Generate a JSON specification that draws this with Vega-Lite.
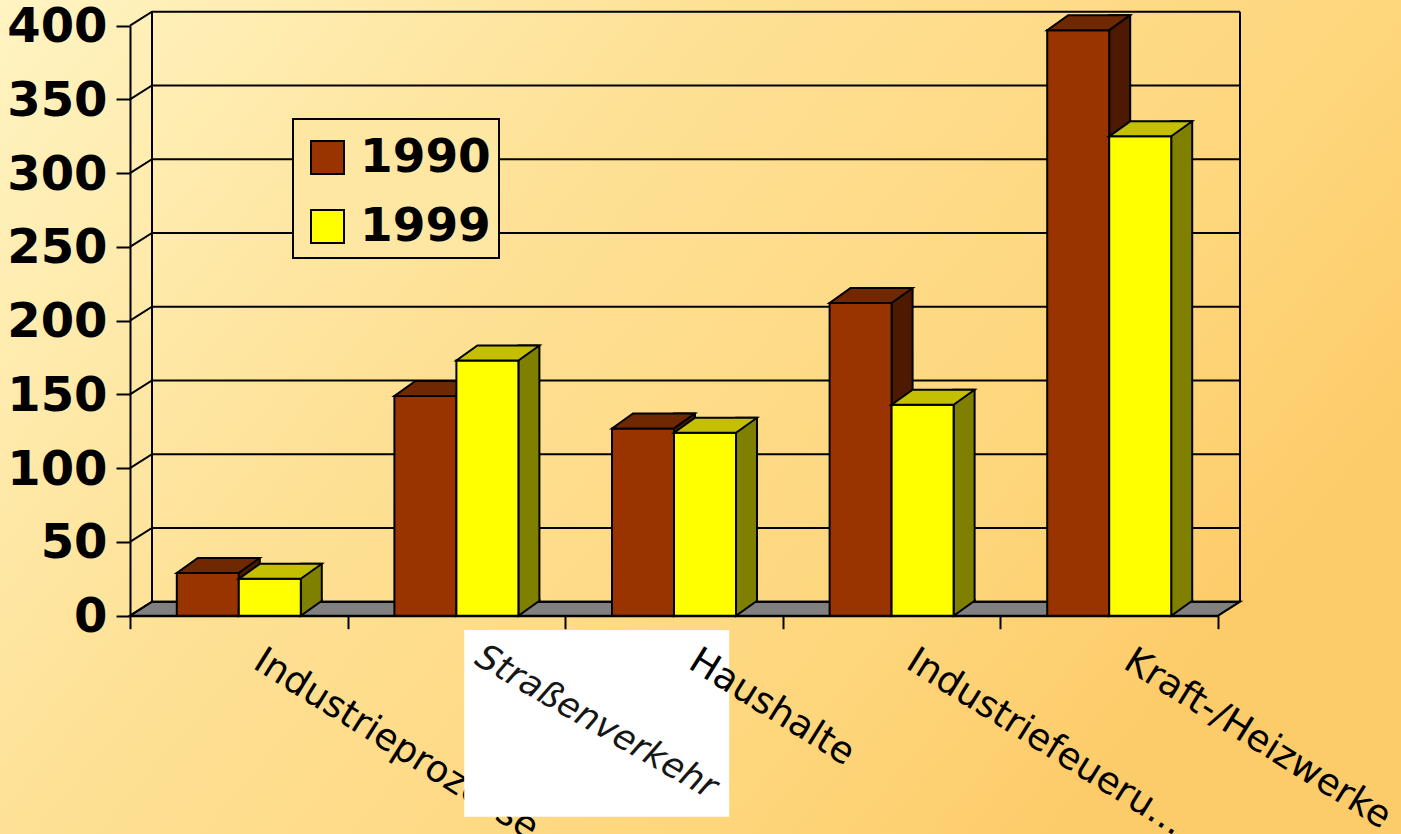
{
  "$schema": "https://vega.github.io/schema/vega-lite/v6.json",
  "width": 1401,
  "height": 834,
  "padding": 0,
  "autosize": {"type": "none"},
  "background": "#fedf95",
  "config": {
    "view": {
      "stroke": null,
      "fill": {
        "gradient": "linear",
        "x1": 0, "y1": 0, "x2": 1, "y2": 0.5,
        "stops": [
          {"offset": 0, "color": "#fff4c2"},
          {"offset": 0.4, "color": "#fee196"},
          {"offset": 0.8, "color": "#fed67c"},
          {"offset": 1, "color": "#fdcc6a"}
        ]
      }
    },
    "legend": {"strokeWidth": 2}
  },
  "datasets": {
    "emissions": [
      {"category": "Industrieprozesse", "year": "1990", "value": 29},
      {"category": "Industrieprozesse", "year": "1999", "value": 25},
      {"category": "Straßenverkehr", "year": "1990", "value": 149},
      {"category": "Straßenverkehr", "year": "1999", "value": 173},
      {"category": "Haushalte", "year": "1990", "value": 127},
      {"category": "Haushalte", "year": "1999", "value": 124},
      {"category": "Industriefeuerungen", "year": "1990", "value": 212},
      {"category": "Industriefeuerungen", "year": "1999", "value": 143},
      {"category": "Kraft-/Heizwerke", "year": "1990", "value": 397},
      {"category": "Kraft-/Heizwerke", "year": "1999", "value": 325}
    ],
    "gridlines": [
      {"v": 0}, {"v": 50}, {"v": 100}, {"v": 150}, {"v": 200},
      {"v": 250}, {"v": 300}, {"v": 350}, {"v": 400}
    ]
  },
  "layer": [
    {
      "description": "grey floor of the 3D box",
      "data": {"values": [{}]},
      "mark": {"type": "point", "shape": "M0,0 L1088,0 L1110,-14 L22,-14 Z", "size": 4, "filled": true, "fill": "#808080", "stroke": "black", "strokeWidth": 2, "opacity": 1},
      "encoding": {
        "x": {"datum": "Industrieprozesse", "type": "nominal", "bandPosition": 0, "title": null,
              "scale": {"type": "band", "domain": ["Industrieprozesse", "Straßenverkehr", "Haushalte", "Industriefeuerungen", "Kraft-/Heizwerke"], "range": [130, 1218], "paddingInner": 0, "paddingOuter": 0}},
        "y": {"datum": 0, "type": "quantitative", "title": null,
              "scale": {"domain": [0, 400], "range": [615.7, 25.7], "nice": false, "zero": false}}
      }
    },
    {
      "description": "gridlines on the side and back walls",
      "data": {"name": "gridlines"},
      "mark": {"type": "point", "shape": "M0,0 L22,-14 L1110,-14", "size": 4, "filled": false, "fillOpacity": 0, "stroke": "black", "strokeWidth": 2, "opacity": 1},
      "encoding": {
        "x": {"datum": "Industrieprozesse", "type": "nominal", "bandPosition": 0, "title": null,
              "scale": {"type": "band", "domain": ["Industrieprozesse", "Straßenverkehr", "Haushalte", "Industriefeuerungen", "Kraft-/Heizwerke"], "range": [130, 1218], "paddingInner": 0, "paddingOuter": 0}},
        "y": {"field": "v", "type": "quantitative", "title": null,
              "scale": {"domain": [0, 400], "range": [615.7, 25.7], "nice": false, "zero": false}}
      }
    },
    {
      "description": "back wall, left edge",
      "data": {"values": [{}]},
      "mark": {"type": "rule", "xOffset": 22, "yOffset": -14, "y2Offset": -14, "stroke": "black", "strokeWidth": 2},
      "encoding": {
        "x": {"datum": "Industrieprozesse", "type": "nominal", "bandPosition": 0, "title": null,
              "scale": {"type": "band", "domain": ["Industrieprozesse", "Straßenverkehr", "Haushalte", "Industriefeuerungen", "Kraft-/Heizwerke"], "range": [130, 1218], "paddingInner": 0, "paddingOuter": 0}},
        "y": {"datum": 0, "type": "quantitative", "title": null,
              "scale": {"domain": [0, 400], "range": [615.7, 25.7], "nice": false, "zero": false}},
        "y2": {"datum": 400}
      }
    },
    {
      "description": "back wall, right edge",
      "data": {"values": [{}]},
      "mark": {"type": "rule", "xOffset": 22, "yOffset": -14, "y2Offset": -14, "stroke": "black", "strokeWidth": 2},
      "encoding": {
        "x": {"datum": "Kraft-/Heizwerke", "type": "nominal", "bandPosition": 1, "title": null,
              "scale": {"type": "band", "domain": ["Industrieprozesse", "Straßenverkehr", "Haushalte", "Industriefeuerungen", "Kraft-/Heizwerke"], "range": [130, 1218], "paddingInner": 0, "paddingOuter": 0}},
        "y": {"datum": 0, "type": "quantitative", "title": null,
              "scale": {"domain": [0, 400], "range": [615.7, 25.7], "nice": false, "zero": false}},
        "y2": {"datum": 400}
      }
    },
    {
      "description": "1990 side face",
      "data": {"name": "emissions"},
      "transform": [{"filter": "datum.year == '1990'"}],
      "mark": {"type": "bar", "width": 21, "xOffset": 10.5, "yOffset": -15, "y2Offset": -15, "fill": "#4d1900", "stroke": "black", "strokeWidth": 2},
      "encoding": {
        "x": {"field": "category", "type": "nominal", "title": null,
              "scale": {"type": "band", "domain": ["Industrieprozesse", "Straßenverkehr", "Haushalte", "Industriefeuerungen", "Kraft-/Heizwerke"], "range": [130, 1218], "paddingInner": 0, "paddingOuter": 0}},
        "y": {"field": "value", "type": "quantitative", "title": null,
              "scale": {"domain": [0, 400], "range": [615.7, 25.7], "nice": false, "zero": false}}
      }
    },
    {
      "description": "1990 side face, lower corner",
      "data": {"name": "emissions"},
      "transform": [{"filter": "datum.year == '1990'"}],
      "mark": {"type": "point", "shape": "M0,-17 L0,0 L21,-15 L21,-17", "size": 4, "filled": true, "fill": "#4d1900", "stroke": "black", "strokeWidth": 2, "opacity": 1},
      "encoding": {
        "x": {"field": "category", "type": "nominal", "title": null,
              "scale": {"type": "band", "domain": ["Industrieprozesse", "Straßenverkehr", "Haushalte", "Industriefeuerungen", "Kraft-/Heizwerke"], "range": [130, 1218], "paddingInner": 0, "paddingOuter": 0}},
        "y": {"datum": 0, "type": "quantitative", "title": null,
              "scale": {"domain": [0, 400], "range": [615.7, 25.7], "nice": false, "zero": false}}
      }
    },
    {
      "description": "1990 front face, carries the axes and the legend",
      "data": {"name": "emissions"},
      "transform": [{"filter": "datum.year == '1990'"}],
      "mark": {"type": "bar", "width": 62, "xOffset": -31, "stroke": "black", "strokeWidth": 2, "opacity": 1},
      "encoding": {
        "x": {"field": "category", "type": "nominal", "title": null,
              "scale": {"type": "band", "domain": ["Industrieprozesse", "Straßenverkehr", "Haushalte", "Industriefeuerungen", "Kraft-/Heizwerke"], "range": [130, 1218], "paddingInner": 0, "paddingOuter": 0},
              "axis": {
                "orient": "bottom", "offset": -218.3, "grid": false,
                "domain": true, "domainColor": "black", "domainWidth": 2,
                "ticks": true, "tickBand": "extent", "tickSize": 13, "tickColor": "black", "tickWidth": 2,
                "labels": false
              }},
        "y": {"field": "value", "type": "quantitative", "title": null,
              "scale": {"domain": [0, 400], "range": [615.7, 25.7], "nice": false, "zero": false},
              "axis": {
                "orient": "left", "offset": -130, "grid": false,
                "values": [0, 50, 100, 150, 200, 250, 300, 350, 400],
                "domain": true, "domainColor": "black", "domainWidth": 2,
                "tickSize": 14, "tickColor": "black", "tickWidth": 2,
                "labelFont": "DejaVu Sans", "labelFontSize": 48, "labelFontWeight": "bold", "labelColor": "black",
                "labelPadding": 9, "labelOffset": 2, "labelOverlap": false
              }},
        "color": {"field": "year", "type": "nominal",
                  "scale": {"domain": ["1990", "1999"], "range": ["#993300", "#ffff00"]},
                  "legend": {
                    "title": " ", "titleFontSize": 3, "titlePadding": 4,
                    "orient": "none", "legendX": 293, "legendY": 119, "zindex": 1,
                    "symbolType": "square", "symbolSize": 1089, "symbolStrokeColor": "black", "symbolStrokeWidth": 2, "symbolOffset": 3,
                    "labelFont": "DejaVu Sans", "labelFontSize": 47, "labelFontWeight": "bold", "labelColor": "black", "labelOffset": 9,
                    "padding": 8, "rowPadding": 21,
                    "fillColor": "#fee7a3", "strokeColor": "black"
                  }}
      }
    },
    {
      "description": "1990 top face",
      "data": {"name": "emissions"},
      "transform": [{"filter": "datum.year == '1990'"}],
      "mark": {"type": "point", "shape": "M-31,0 L31,0 L52,-15 L-10,-15 Z", "size": 4, "filled": true, "fill": "#702800", "stroke": "black", "strokeWidth": 2, "opacity": 1, "xOffset": -31},
      "encoding": {
        "x": {"field": "category", "type": "nominal", "title": null,
              "scale": {"type": "band", "domain": ["Industrieprozesse", "Straßenverkehr", "Haushalte", "Industriefeuerungen", "Kraft-/Heizwerke"], "range": [130, 1218], "paddingInner": 0, "paddingOuter": 0}},
        "y": {"field": "value", "type": "quantitative", "title": null,
              "scale": {"domain": [0, 400], "range": [615.7, 25.7], "nice": false, "zero": false}}
      }
    },
    {
      "description": "1999 side face",
      "data": {"name": "emissions"},
      "transform": [{"filter": "datum.year == '1999'"}],
      "mark": {"type": "bar", "width": 21, "xOffset": 72.5, "yOffset": -15, "y2Offset": -15, "fill": "#808000", "stroke": "black", "strokeWidth": 2},
      "encoding": {
        "x": {"field": "category", "type": "nominal", "title": null,
              "scale": {"type": "band", "domain": ["Industrieprozesse", "Straßenverkehr", "Haushalte", "Industriefeuerungen", "Kraft-/Heizwerke"], "range": [130, 1218], "paddingInner": 0, "paddingOuter": 0}},
        "y": {"field": "value", "type": "quantitative", "title": null,
              "scale": {"domain": [0, 400], "range": [615.7, 25.7], "nice": false, "zero": false}}
      }
    },
    {
      "description": "1999 side face, lower corner",
      "data": {"name": "emissions"},
      "transform": [{"filter": "datum.year == '1999'"}],
      "mark": {"type": "point", "shape": "M0,-17 L0,0 L21,-15 L21,-17", "size": 4, "filled": true, "fill": "#808000", "stroke": "black", "strokeWidth": 2, "opacity": 1, "xOffset": 62},
      "encoding": {
        "x": {"field": "category", "type": "nominal", "title": null,
              "scale": {"type": "band", "domain": ["Industrieprozesse", "Straßenverkehr", "Haushalte", "Industriefeuerungen", "Kraft-/Heizwerke"], "range": [130, 1218], "paddingInner": 0, "paddingOuter": 0}},
        "y": {"datum": 0, "type": "quantitative", "title": null,
              "scale": {"domain": [0, 400], "range": [615.7, 25.7], "nice": false, "zero": false}}
      }
    },
    {
      "description": "1999 front face",
      "data": {"name": "emissions"},
      "transform": [{"filter": "datum.year == '1999'"}],
      "mark": {"type": "bar", "width": 62, "xOffset": 31, "stroke": "black", "strokeWidth": 2, "opacity": 1},
      "encoding": {
        "x": {"field": "category", "type": "nominal", "title": null,
              "scale": {"type": "band", "domain": ["Industrieprozesse", "Straßenverkehr", "Haushalte", "Industriefeuerungen", "Kraft-/Heizwerke"], "range": [130, 1218], "paddingInner": 0, "paddingOuter": 0}},
        "y": {"field": "value", "type": "quantitative", "title": null,
              "scale": {"domain": [0, 400], "range": [615.7, 25.7], "nice": false, "zero": false}},
        "color": {"field": "year", "type": "nominal",
                  "scale": {"domain": ["1990", "1999"], "range": ["#993300", "#ffff00"]}}
      }
    },
    {
      "description": "1999 top face",
      "data": {"name": "emissions"},
      "transform": [{"filter": "datum.year == '1999'"}],
      "mark": {"type": "point", "shape": "M-31,0 L31,0 L52,-15 L-10,-15 Z", "size": 4, "filled": true, "fill": "#c4bf00", "stroke": "black", "strokeWidth": 2, "opacity": 1, "xOffset": 31},
      "encoding": {
        "x": {"field": "category", "type": "nominal", "title": null,
              "scale": {"type": "band", "domain": ["Industrieprozesse", "Straßenverkehr", "Haushalte", "Industriefeuerungen", "Kraft-/Heizwerke"], "range": [130, 1218], "paddingInner": 0, "paddingOuter": 0}},
        "y": {"field": "value", "type": "quantitative", "title": null,
              "scale": {"domain": [0, 400], "range": [615.7, 25.7], "nice": false, "zero": false}}
      }
    },
    {
      "description": "first category label, partly hidden by the pasted box",
      "data": {"name": "emissions"},
      "transform": [{"filter": "datum.year == '1990' && datum.category == 'Industrieprozesse'"}],
      "mark": {"type": "text", "xOffset": 28, "angle": 32, "align": "left", "baseline": "top", "font": "DejaVu Sans", "fontSize": 37, "fill": "black", "limit": 335, "ellipsis": "..."},
      "encoding": {
        "x": {"field": "category", "type": "nominal", "title": null,
              "scale": {"type": "band", "domain": ["Industrieprozesse", "Straßenverkehr", "Haushalte", "Industriefeuerungen", "Kraft-/Heizwerke"], "range": [130, 1218], "paddingInner": 0, "paddingOuter": 0}},
        "y": {"datum": -18.3, "type": "quantitative", "title": null,
              "scale": {"domain": [0, 400], "range": [615.7, 25.7], "nice": false, "zero": false}},
        "text": {"field": "category", "type": "nominal"}
      }
    },
    {
      "description": "white pasted label box",
      "data": {"values": [{}]},
      "mark": {"type": "bar", "width": 265, "xOffset": 140.3, "fill": "white", "opacity": 1},
      "encoding": {
        "x": {"datum": "Straßenverkehr", "type": "nominal", "title": null,
              "scale": {"type": "band", "domain": ["Industrieprozesse", "Straßenverkehr", "Haushalte", "Industriefeuerungen", "Kraft-/Heizwerke"], "range": [130, 1218], "paddingInner": 0, "paddingOuter": 0}},
        "y": {"datum": -9.7, "type": "quantitative", "title": null,
              "scale": {"domain": [0, 400], "range": [615.7, 25.7], "nice": false, "zero": false}},
        "y2": {"datum": -136.3}
      }
    },
    {
      "description": "label inside the pasted box",
      "data": {"values": [{"label": "Straßenverkehr"}]},
      "mark": {"type": "text", "xOffset": 140, "angle": 30, "font": "DejaVu Sans", "fontSize": 35, "fontStyle": "italic", "fill": "#161616", "align": "center", "baseline": "middle"},
      "encoding": {
        "x": {"datum": "Straßenverkehr", "type": "nominal", "title": null,
              "scale": {"type": "band", "domain": ["Industrieprozesse", "Straßenverkehr", "Haushalte", "Industriefeuerungen", "Kraft-/Heizwerke"], "range": [130, 1218], "paddingInner": 0, "paddingOuter": 0}},
        "y": {"datum": -72, "type": "quantitative", "title": null,
              "scale": {"domain": [0, 400], "range": [615.7, 25.7], "nice": false, "zero": false}},
        "text": {"field": "label", "type": "nominal"}
      }
    },
    {
      "description": "remaining category labels, long names cut with dots",
      "data": {"name": "emissions"},
      "transform": [{"filter": "datum.year == '1990' && datum.category != 'Straßenverkehr' && datum.category != 'Industrieprozesse'"}],
      "mark": {"type": "text", "xOffset": 28, "angle": 32, "align": "left", "baseline": "top", "font": "DejaVu Sans", "fontSize": 37, "fill": "black", "limit": 335, "ellipsis": "..."},
      "encoding": {
        "x": {"field": "category", "type": "nominal", "title": null,
              "scale": {"type": "band", "domain": ["Industrieprozesse", "Straßenverkehr", "Haushalte", "Industriefeuerungen", "Kraft-/Heizwerke"], "range": [130, 1218], "paddingInner": 0, "paddingOuter": 0}},
        "y": {"datum": -18.3, "type": "quantitative", "title": null,
              "scale": {"domain": [0, 400], "range": [615.7, 25.7], "nice": false, "zero": false}},
        "text": {"field": "category", "type": "nominal"}
      }
    }
  ]
}
